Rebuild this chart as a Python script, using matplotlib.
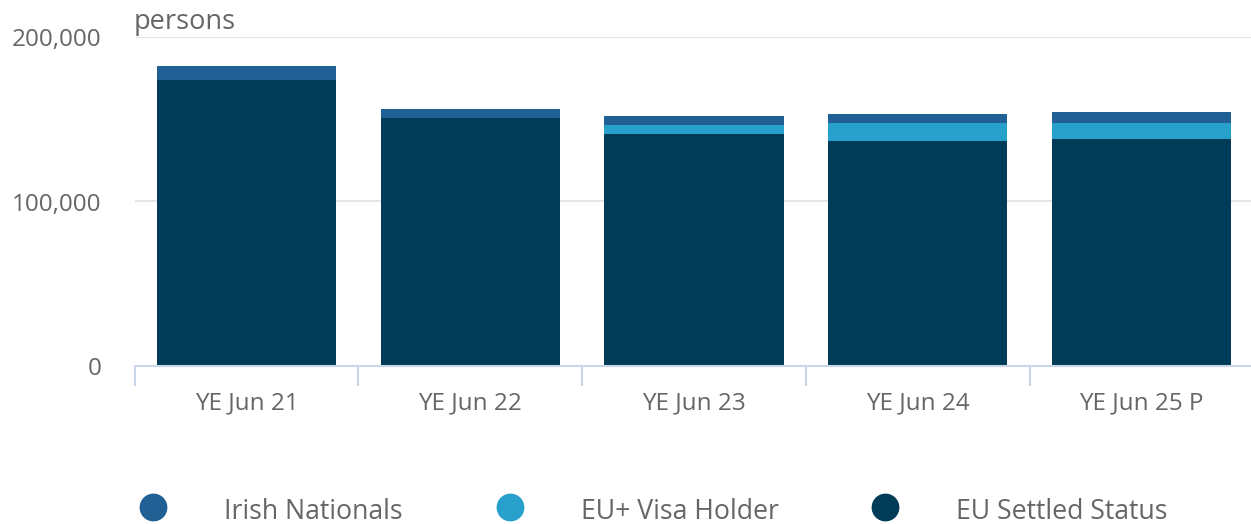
import matplotlib
matplotlib.use("Agg")
import matplotlib.pyplot as plt
import numpy as np
from matplotlib.lines import Line2D

categories = ["YE Jun 21", "YE Jun 22", "YE Jun 23", "YE Jun 24", "YE Jun 25 P"]
eu_settled = [173700, 150600, 140900, 137000, 138200]
eu_visa = [0, 0, 5650, 10760, 9550]
irish = [8500, 5500, 5470, 5470, 6870]
series_names = ["Irish Nationals", "EU+ Visa Holder", "EU Settled Status"]
colors = ["#206095", "#27a0cc", "#003c57"]
y_ticks = [0, 100000, 200000]

plt.rcParams['font.family'] = ['Open Sans', 'DejaVu Sans']

W, H = 1251, 524
fig = plt.figure(figsize=(W / 100, H / 100), dpi=100)
ax = fig.add_axes([134.6 / W, 1 - 366 / H, (1253.4 - 134.6) / W, (366 - 37) / H])

x = np.arange(len(categories))
settled = np.array(eu_settled)
visa = np.array(eu_visa)
ir = np.array(irish)
ax.bar(x, settled, width=0.8, color=colors[2], zorder=3)
ax.bar(x, visa, width=0.8, bottom=settled, color=colors[1], zorder=3)
ax.bar(x, ir, width=0.8, bottom=settled + visa, color=colors[0], zorder=3)

ax.set_xlim(-0.5, len(categories) - 0.5)
ax.set_ylim(0, 200000)
ax.set_yticks(y_ticks)
ax.set_yticklabels([f"{v:,}" for v in y_ticks])
ax.yaxis.grid(True, color="#e6e6e6", linewidth=1.5, zorder=0)
ax.tick_params(axis="y", length=0, pad=24, labelsize=17.5, labelcolor="#666666")

ax.set_xticks(x)
ax.set_xticklabels(categories)
ax.set_xticks(np.arange(-0.5, len(categories)), minor=True)
ax.tick_params(axis="x", which="major", length=0, pad=18.5, labelsize=17.5, labelcolor="#666666")
ax.tick_params(axis="x", which="minor", length=14.4, width=1.5, color="#ccd6eb")

for s in ["top", "right", "left"]:
    ax.spines[s].set_visible(False)
ax.spines["bottom"].set_color("#ccd6eb")
ax.spines["bottom"].set_linewidth(1.5)
ax.spines["bottom"].set_zorder(4)

fig.text(134 / W, 1 - 22 / H, "persons", fontsize=19.5, color="#666666", va="center", ha="left")

leg_x = [153, 510, 885]
for lx, c, name in zip(leg_x, colors, series_names):
    fig.add_artist(Line2D([lx / W], [1 - 507 / H], marker="o", linestyle="", markersize=19,
                          markerfacecolor=c, markeredgecolor=c, transform=fig.transFigure))
    fig.text((lx + 71) / W, 1 - 512 / H, name, fontsize=19.2, color="#666666", va="center", ha="left")

fig.savefig("out.png", dpi=100)
